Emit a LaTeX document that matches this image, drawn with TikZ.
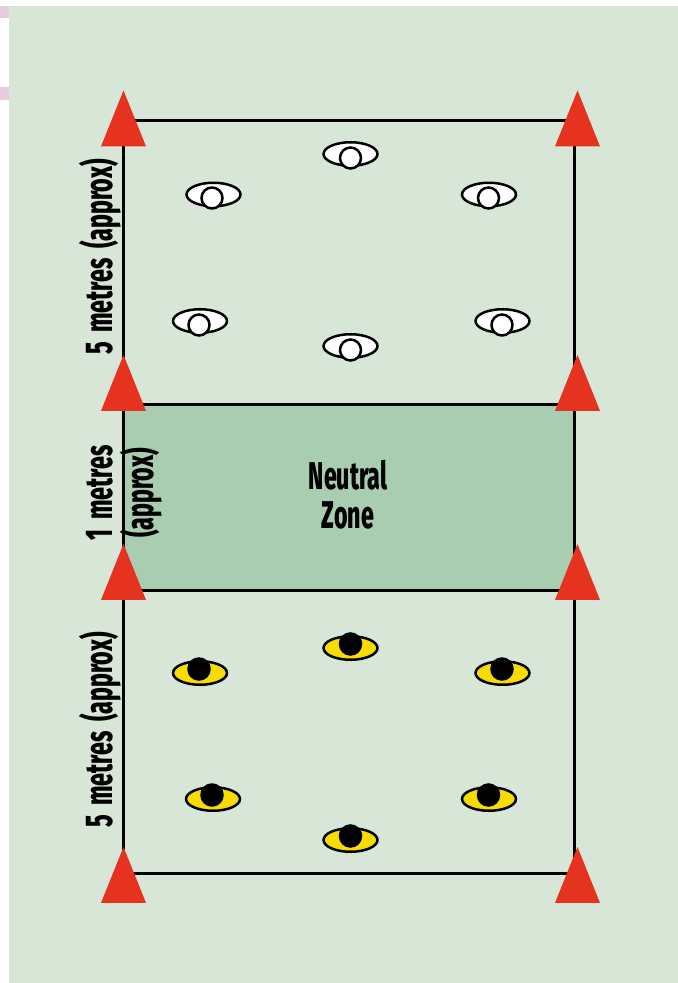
\documentclass[tikz,border=0pt]{standalone}
\usepackage{fontspec}
\setmainfont[FakeStretch=0.6,WordSpace=1.8,BoldFont={Fira Sans ExtraBold},BoldFeatures={FakeStretch=0.6,WordSpace=1.8}]{Fira Sans}
\usepackage{tikz}
\usetikzlibrary{shapes.geometric}
\definecolor{pitch}{HTML}{D8E6D8}
\definecolor{zone}{HTML}{A9CDB0}
\definecolor{conered}{HTML}{E5331F}
\definecolor{bib}{HTML}{F8DC00}
\definecolor{strip}{HTML}{E8CCE0}
\tikzstyle{cone} = [isosceles triangle, isosceles triangle stretches, shape border rotate=90, anchor=apex, fill=conered, inner sep=0pt, minimum width=0.9cm, minimum height=1.12cm]
\tikzstyle{eye} = [draw, ellipse, line width=0.05cm, inner sep=0pt, minimum width=1.08cm, minimum height=0.47cm]
\tikzstyle{ball} = [draw, circle, line width=0.05cm, inner sep=0pt, minimum size=0.42cm]
\tikzstyle{line} = [line width=0.06cm]
\tikzstyle{label} = [font=\bfseries\fontsize{22pt}{24pt}\selectfont, inner sep=0pt, align=center]

\begin{document}
\begin{tikzpicture}[x=0.02cm,y=-0.02cm]
\useasboundingbox (0,0) rectangle (678,983);

\fill[pitch] (9,6) rectangle (678,983);
\fill[strip] (0,6) rectangle (9,18);
\fill[strip] (0,87) rectangle (9,100);

\coordinate (tl) at (123.5,120.5);
\coordinate (tr) at (574.5,120.5);
\coordinate (ml) at (123.5,404);
\coordinate (mr) at (574.5,404);
\coordinate (nl) at (123.5,590);
\coordinate (nr) at (574.5,590);
\coordinate (bl) at (123.5,873.5);
\coordinate (br) at (574.5,873.5);

\fill[zone] (ml) rectangle (nr);
\draw[line] (tl) -- (tr);
\draw[line] (ml) -- (mr);
\draw[line] (nl) -- (nr);
\draw[line] (bl) -- (br);
\draw[line] (tl) -- (bl);
\draw[line] (tr) -- (br);

\node[cone] (c1) at (123.5,89.5) {};
\node[cone] (c2) at (577.5,89.5) {};
\node[cone] (c3) at (123.5,354) {};
\node[cone] (c4) at (577.5,354) {};
\node[cone] (c5) at (123.5,543) {};
\node[cone] (c6) at (577.5,543) {};
\node[cone] (c7) at (123.5,846) {};
\node[cone] (c8) at (577.5,846) {};

\node[eye, fill=white] (w1) at (213.5,194.5) {};
\node[eye, fill=white] (w2) at (350.5,154) {};
\node[eye, fill=white] (w3) at (489,194.5) {};
\node[eye, fill=white] (w4) at (200,321) {};
\node[eye, fill=white] (w5) at (350.5,346) {};
\node[eye, fill=white] (w6) at (502.5,321) {};
\node[ball, fill=white] (a1) at (212,198) {};
\node[ball, fill=white] (a2) at (350.5,158) {};
\node[ball, fill=white] (a3) at (488.5,198) {};
\node[ball, fill=white] (a4) at (199,325) {};
\node[ball, fill=white] (a5) at (350.5,350) {};
\node[ball, fill=white] (a6) at (502,325) {};

\node[eye, fill=bib] (y1) at (200,673) {};
\node[eye, fill=bib] (y2) at (350.5,648) {};
\node[eye, fill=bib] (y3) at (502.5,673) {};
\node[eye, fill=bib] (y4) at (213,799) {};
\node[eye, fill=bib] (y5) at (350.5,840) {};
\node[eye, fill=bib] (y6) at (489,799) {};
\node[ball, fill=black] (b1) at (199,669) {};
\node[ball, fill=black] (b2) at (350.5,644) {};
\node[ball, fill=black] (b3) at (502,669) {};
\node[ball, fill=black] (b4) at (212,795) {};
\node[ball, fill=black] (b5) at (350.5,836) {};
\node[ball, fill=black] (b6) at (488.5,795) {};

\node[label, rotate=90] (top) at (100,257) {5 metres (approx)};
\node[label, rotate=90] (mid) at (100,493) {1 metres};
\node[label, rotate=90] (app) at (141,493) {(approx)};
\node[label, rotate=90] (bot) at (100,730) {5 metres (approx)};
\node[label] (neu) at (348,475) {Neutral};
\node[label] (zon) at (348,515) {Zone};
\end{tikzpicture}
\end{document}
